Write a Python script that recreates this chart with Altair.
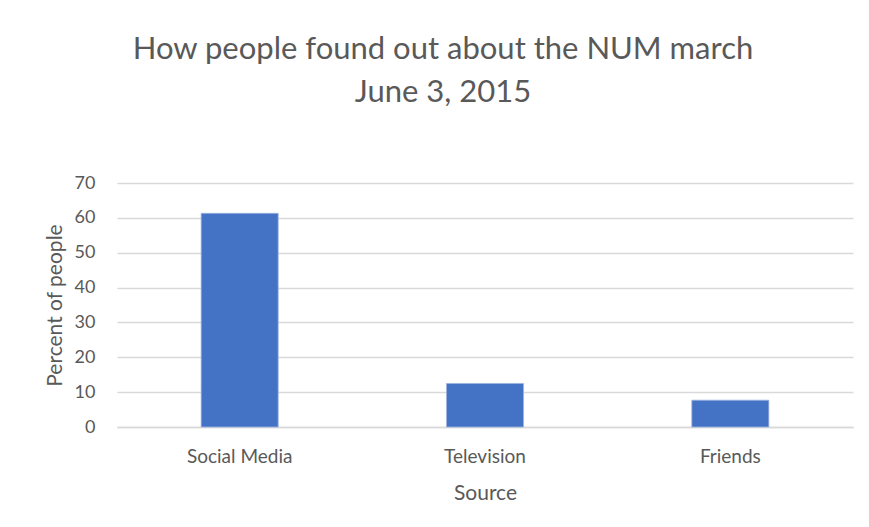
import altair as alt
import pandas as pd

sources = ["Social Media", "Television", "Friends"]
percents = [61.3, 12.5, 7.7]
y_ticks = [0, 10, 20, 30, 40, 50, 60, 70]

df = pd.DataFrame({"Source": sources, "Percent": percents})

FONT = "Lato"
GREY = "#595959"

bars = alt.Chart(df).mark_bar(color="#4472c4", stroke="#9db3e0", strokeWidth=0.8).encode(
    x=alt.X("Source:N", sort=sources,
            scale=alt.Scale(paddingInner=0.686, paddingOuter=0.343),
            axis=alt.Axis(title="Source", labelAngle=0, ticks=False,
                          domainColor="#d9d9d9", domainWidth=1.5,
                          labelPadding=20, titlePadding=16,
                          labelFont=FONT, labelFontSize=19, labelColor=GREY,
                          titleFont=FONT, titleFontSize=21, titleColor=GREY,
                          titleFontWeight="normal")),
    y=alt.Y("Percent:Q", scale=alt.Scale(domain=[0, 70]),
            axis=alt.Axis(title="Percent of people", values=y_ticks, ticks=False,
                          domain=False, gridColor="#d9d9d9", gridWidth=1.5,
                          labelPadding=22, titlePadding=9,
                          labelFont=FONT, labelFontSize=18, labelColor=GREY,
                          titleFont=FONT, titleFontSize=21, titleColor=GREY,
                          titleFontWeight="normal")),
)

chart = bars.properties(
    width=736, height=244,
    padding={"left": 109, "top": 175, "right": 8, "bottom": 92},
    autosize=alt.AutoSizeParams(type="none"),
    title=alt.TitleParams(
        text=["How people found out about the NUM march", "June 3, 2015"],
        font=FONT, fontSize=31, fontWeight="normal", color=GREY,
        anchor="middle", offset=65, lineHeight=43, dx=-42,
    ),
).configure_view(stroke=None)

chart.save("out.html", embed_options={"renderer": "svg", "actions": False})
